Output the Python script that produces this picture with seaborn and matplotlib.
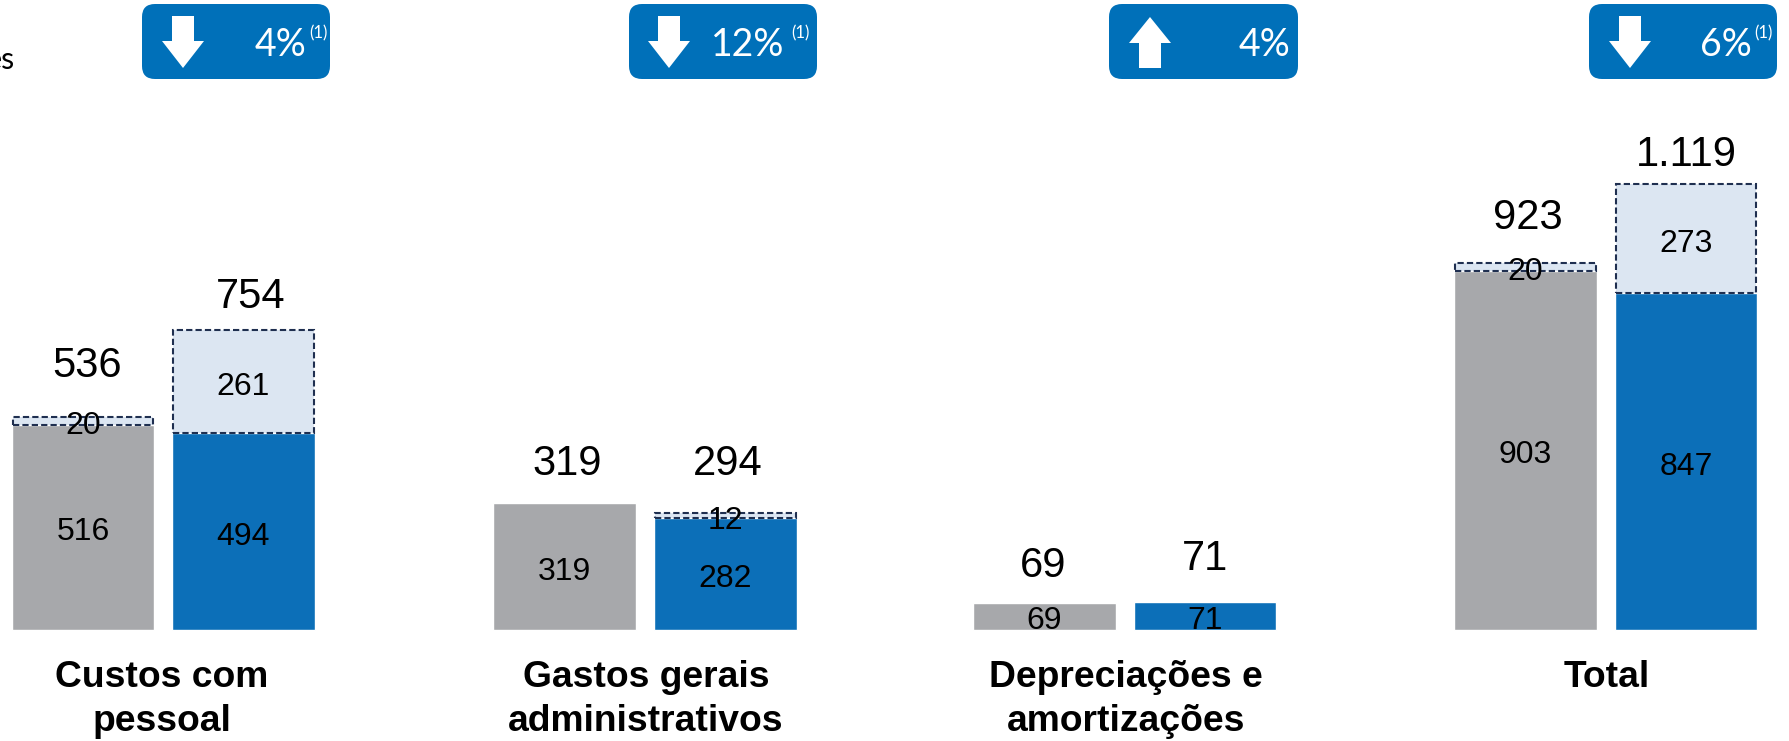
"""Custos e despesas: barras empilhadas por grupo, com selos de variacao."""

import matplotlib

matplotlib.use("Agg")
import matplotlib.pyplot as plt
import pandas as pd
import seaborn as sns
from matplotlib.patches import FancyBboxPatch, Polygon

categorias = ["Custos com\npessoal", "Gastos gerais\nadministrativos",
              "Depreciações e\namortizações", "Total"]
solido = [516, 494, 319, 282, 69, 71, 903, 847]
tracejado = [20, 261, 0, 12, 0, 0, 20, 273]
totais = ["536", "754", "319", "294", "69", "71", "923", "1.119"]
periodo = ["anterior", "atual"] * 4
variacao = ["4%", "12%", "4%", "6%"]
direcao = ["down", "down", "up", "down"]
nota = [True, True, False, True]

# layout, in reference pixels
W, H = 1790, 741
BASE_Y = 630
PX_PER_UNIT = 0.398
BAR_X = [83, 243.5, 564.5, 725.5, 1044.5, 1205, 1525.5, 1686]
TOTAL_X = [87, 251, 567, 728, 1043, 1205, 1528, 1686]
TOTAL_Y = [366, 297, 464, 464, 566, 559, 218, 155]
CAT_X = [162, 646, 1126, 1607]
CAT_Y = 660
BADGE_X = [(142, 330), (629, 817), (1109, 1298), (1589, 1777)]
ARROW_X = [183, 669, 1150, 1630]
PCT_X = [306, 784, 1290, 1752]
NOTE_X = [318, 800, None, 1763]

BLUE_BADGE = "#0070B9"
COLORS = {"anterior": "#A7A8AB", "atual": "#0C6FB8"}
LIGHT = "#DCE6F2"
DASH = "#1F2F50"
ARIAL = "Liberation Sans"
CALIBRI = "Lato"


def draw_bars(ax):
    df = pd.DataFrame({"x": BAR_X, "valor": solido, "periodo": periodo})
    sns.barplot(data=df, x="x", y="valor", hue="periodo", palette=COLORS, dodge=False,
                native_scale=True, width=0.885, saturation=1, legend=False, ax=ax)

    extra = df.assign(extra=tracejado)
    extra = extra[extra["extra"] > 0]
    sns.barplot(data=extra, x="x", y="extra", color=LIGHT, native_scale=True, width=0.875,
                saturation=1, bottom=extra["valor"].to_numpy(), edgecolor=DASH,
                linewidth=1.5, linestyle=(0, (3, 1.5)), ax=ax)

    ax.set_xlim(0, W)
    ax.set_ylim((BASE_Y - H) / PX_PER_UNIT, BASE_Y / PX_PER_UNIT)
    ax.axis("off")

    for x, s, e in zip(BAR_X, solido, tracejado):
        ax.text(x, s / 2 - 13, str(s), ha="center", va="center", fontsize=23,
                family=ARIAL, color="black")
        if e:
            ax.text(x, s + e / 2 - 13, str(e), ha="center", va="center", fontsize=23,
                    family=ARIAL, color="black")


def draw_badge(ov, i):
    x0, x1 = BADGE_X[i]
    ov.add_patch(FancyBboxPatch((x0, 4), x1 - x0, 75,
                                boxstyle="round,pad=0,rounding_size=13",
                                linewidth=0, facecolor=BLUE_BADGE))
    cx = ARROW_X[i]
    if direcao[i] == "down":
        pts = [(cx - 11, 16), (cx + 11, 16), (cx + 11, 41), (cx + 21, 41), (cx, 68),
               (cx - 21, 41), (cx - 11, 41)]
    else:
        pts = [(cx - 11, 68), (cx + 11, 68), (cx + 11, 43), (cx + 21, 43), (cx, 17),
               (cx - 21, 43), (cx - 11, 43)]
    ov.add_patch(Polygon(pts, closed=True, facecolor="white", edgecolor="none"))
    ov.text(PCT_X[i], 45, variacao[i], ha="right", va="center", color="white",
            fontsize=27, family=CALIBRI)
    if nota[i]:
        ov.text(NOTE_X[i], 33, "(1)", ha="center", va="center", color="white",
                fontsize=12, family=CALIBRI)


def main():
    sns.set_theme(style="white")
    fig = plt.figure(figsize=(W / 100, H / 100), dpi=100)
    ax = fig.add_axes([0, 0, 1, 1])
    draw_bars(ax)

    # overlay in pixel coordinates for badges and free text
    ov = fig.add_axes([0, 0, 1, 1])
    ov.set_xlim(0, W)
    ov.set_ylim(H, 0)
    ov.axis("off")
    ov.patch.set_alpha(0)

    for i in range(4):
        draw_badge(ov, i)
        ov.text(CAT_X[i], CAT_Y, categorias[i], ha="center", va="top", fontsize=26.8,
                fontweight="bold", family=ARIAL, linespacing=1.33, color="black")

    for x, y, t in zip(TOTAL_X, TOTAL_Y, totais):
        ov.text(x, y, t, ha="center", va="center", fontsize=30, family=ARIAL, color="black")

    ov.text(15, 60, "es", ha="right", va="center", fontsize=22, family=CALIBRI, color="black")

    fig.savefig("out.png", dpi=100)
    plt.close(fig)


if __name__ == "__main__":
    main()
